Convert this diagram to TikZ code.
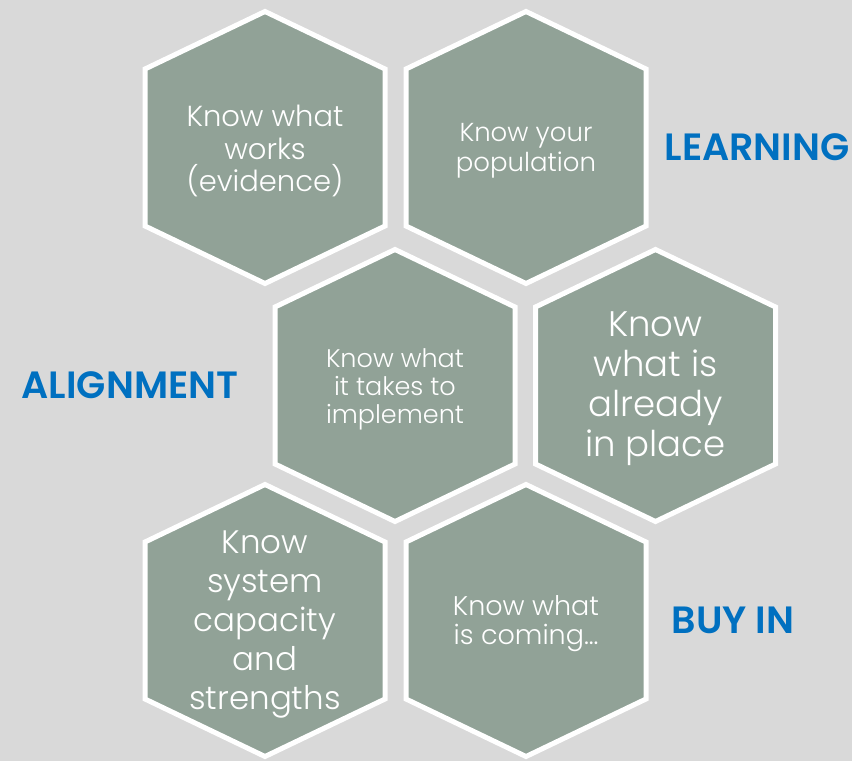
\documentclass[tikz,border=0pt]{standalone}
\usepackage{fontspec}
\IfFontExistsTF{Poppins Light}
  {\setmainfont{Poppins Light}[BoldFont=Poppins SemiBold]}
  {\setmainfont{Poppins}[BoldFont=Poppins SemiBold]}
\definecolor{pagebg}{HTML}{D9D9D9}
\definecolor{cellfill}{HTML}{91A297}
\definecolor{tagblue}{HTML}{0070C0}
\tikzset{
  cellshape/.style={fill=cellfill, draw=white, line width=5pt, line join=miter},
  celltext/.style={text=white, align=center, inner sep=0pt},
  tagtext/.style={text=tagblue, font=\bfseries\fontsize{38}{44}\selectfont, inner sep=0pt}
}
% one honeycomb cell: #1 name, #2 x, #3 y, #4 font size, #5 line skip, #6 text
\newcommand\hexcell[6]{%
  \draw[cellshape] (#2,#3) ++(0,-136.5) -- ++(120,57.5) -- ++(0,157)
    -- ++(-120,57.5) -- ++(-120,-57.5) -- ++(0,-157) -- cycle;
  \node[celltext, font=\fontsize{#4}{#5}\selectfont] (#1) at (#2,#3+3) {#6};
}
\begin{document}
\begin{tikzpicture}[x=1pt,y=-1pt]
  \fill[pagebg] (0,0) rectangle (852,761);
  \useasboundingbox (0,0) rectangle (852,761);

  \hexcell{works}{265}{148}{29}{32.5}{Know what\\works\\(evidence)}
  \hexcell{population}{526}{148}{26}{30}{Know your\\population}
  \hexcell{implement}{395}{386}{25.5}{28}{Know what\\it takes to\\implement}
  \hexcell{inplace}{655.5}{386}{35.5}{40}{Know\\what is\\already\\in place}
  \hexcell{capacity}{265}{621}{32.5}{39}{Know\\system\\capacity\\and\\strengths}
  \hexcell{coming}{526}{621}{27}{29}{Know what\\is coming…}

  \node[tagtext] (learning) at (757,147) {LEARNING};
  \node[tagtext] (alignment) at (130,385) {ALIGNMENT};
  \node[tagtext] (buyin) at (733,620) {BUY IN};
\end{tikzpicture}
\end{document}
